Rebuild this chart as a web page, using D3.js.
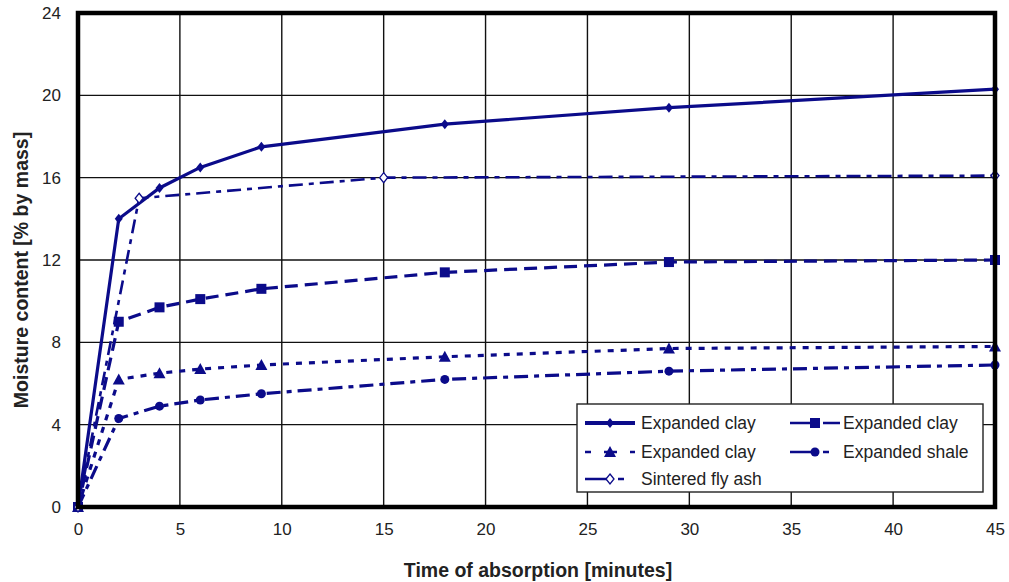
<!DOCTYPE html>
<html><head><meta charset="utf-8">
<script src="https://cdn.jsdelivr.net/npm/d3@7"></script>
<style>body{margin:0;background:#fff}svg{font-family:"Liberation Sans",Arial,sans-serif}</style>
</head><body><svg id="c" width="1009" height="582"></svg>
<script>
const xTicks = [0,5,10,15,20,25,30,35,40,45];
const yTicks = [0,4,8,12,16,20,24];
const timeMain = [0,2,4,6,9,18,29,45];
const clay1 = [0,14.0,15.5,16.5,17.5,18.6,19.4,20.3];
const clay2 = [0,9.0,9.7,10.1,10.6,11.4,11.9,12.0];
const clay3 = [0,6.2,6.5,6.7,6.9,7.3,7.7,7.8];
const shale = [0,4.3,4.9,5.2,5.5,6.2,6.6,6.9];
const timeAsh = [0,3,15,45];
const ash = [0,15.0,16.0,16.1];
const names = ["Expanded clay","Expanded clay","Expanded clay","Expanded shale","Sintered fly ash"];

const C = "#0b0b8a";
const svg = d3.select("#c");
const L=78,R=995,T=13,B=507;
const x = d3.scaleLinear().domain([0,45]).range([L,R]);
const y = d3.scaleLinear().domain([0,24]).range([B,T]);

// grid
svg.append("g").selectAll("line").data(xTicks.slice(1,-1)).join("line")
 .attr("x1",d=>x(d)).attr("x2",d=>x(d)).attr("y1",T).attr("y2",B)
 .attr("stroke","#111").attr("stroke-width",1.4);
svg.append("g").selectAll("line").data(yTicks.slice(1,-1)).join("line")
 .attr("y1",d=>y(d)).attr("y2",d=>y(d)).attr("x1",L).attr("x2",R)
 .attr("stroke","#111").attr("stroke-width",1.4);

// axes labels via d3 axes
const xa = svg.append("g").attr("transform",`translate(0,${B})`)
 .call(d3.axisBottom(x).tickValues(xTicks).tickSize(0).tickPadding(16));
const ya = svg.append("g").attr("transform",`translate(${L},0)`)
 .call(d3.axisLeft(y).tickValues(yTicks).tickSize(0).tickPadding(17));
[xa,ya].forEach(a=>{a.select(".domain").remove();a.selectAll("text").attr("font-size",17).attr("fill","#222").attr("font-family","Liberation Sans, Arial, sans-serif");});

// series
const series = [
 {t:timeMain,v:clay1,dash:null,w:3.2,m:"diamond"},
 {t:timeMain,v:clay2,dash:"13,7",w:3.2,m:"square"},
 {t:timeMain,v:clay3,dash:"6,7",w:3.2,m:"triangle"},
 {t:timeMain,v:shale,dash:"14,6,5,6",w:3.2,m:"circle"},
 {t:timeAsh,v:ash,dash:"14,6,5,6",w:2.6,m:"odiamond"}
];
const line = d3.line().x(d=>x(d[0])).y(d=>y(d[1]));
function marker(g,type,cx,cy){
 if(type==="diamond") g.append("path").attr("d",`M${cx},${cy-5}L${cx+4},${cy}L${cx},${cy+5}L${cx-4},${cy}Z`).attr("fill",C);
 else if(type==="odiamond") g.append("path").attr("d",`M${cx},${cy-5}L${cx+4},${cy}L${cx},${cy+5}L${cx-4},${cy}Z`).attr("fill","#fff").attr("stroke",C).attr("stroke-width",1.3);
 else if(type==="square") g.append("rect").attr("x",cx-5).attr("y",cy-5).attr("width",10).attr("height",10).attr("fill",C);
 else if(type==="triangle") g.append("path").attr("d",`M${cx},${cy-6}L${cx+6},${cy+5}L${cx-6},${cy+5}Z`).attr("fill",C);
 else if(type==="circle") g.append("circle").attr("cx",cx).attr("cy",cy).attr("r",4.5).attr("fill",C);
}
series.forEach(s=>{
 const pts = s.t.map((t,i)=>[t,s.v[i]]);
 svg.append("path").datum(pts).attr("d",line).attr("fill","none").attr("stroke",C)
  .attr("stroke-width",s.w).attr("stroke-dasharray",s.dash);
 const g = svg.append("g");
 pts.forEach(p=>marker(g,s.m,x(p[0]),y(p[1])));
});

// frame
svg.append("rect").attr("x",L).attr("y",T).attr("width",R-L).attr("height",B-T)
 .attr("fill","none").attr("stroke","#000").attr("stroke-width",4.5);

// legend
const lg = svg.append("g");
lg.append("rect").attr("x",577).attr("y",404).attr("width",406).attr("height",88)
 .attr("fill","#fff").attr("stroke","#222").attr("stroke-width",1.4);
const lpos = [[585,423],[790,423],[585,452],[790,452],[585,479]];
const ltext = [[641,423],[843,423],[641,452],[843,452],[641,479]];
series.forEach((s,i)=>{
 const [lx,ly]=lpos[i];
 lg.append("line").attr("x1",lx).attr("x2",lx+50).attr("y1",ly).attr("y2",ly)
  .attr("stroke",C).attr("stroke-width",i===0?4:2.6).attr("stroke-dasharray",i===0?null:(i===1?"27,6,20":(i===2?"6,7,0":"27,6,6")));
 marker(lg,s.m,lx+25,ly);
 lg.append("text").attr("x",ltext[i][0]).attr("y",ly+6).attr("font-size",17.5).attr("fill","#222").text(names[i]);
});

// titles
svg.append("text").attr("x",538).attr("y",577).attr("text-anchor","middle").attr("font-size",19.5).attr("font-weight","bold").attr("fill","#222").text("Time of absorption [minutes]");
svg.append("text").attr("transform","translate(28,270) rotate(-90)").attr("text-anchor","middle").attr("font-size",19.5).attr("font-weight","bold").attr("fill","#222").text("Moisture content [% by mass]");
</script></body></html>
